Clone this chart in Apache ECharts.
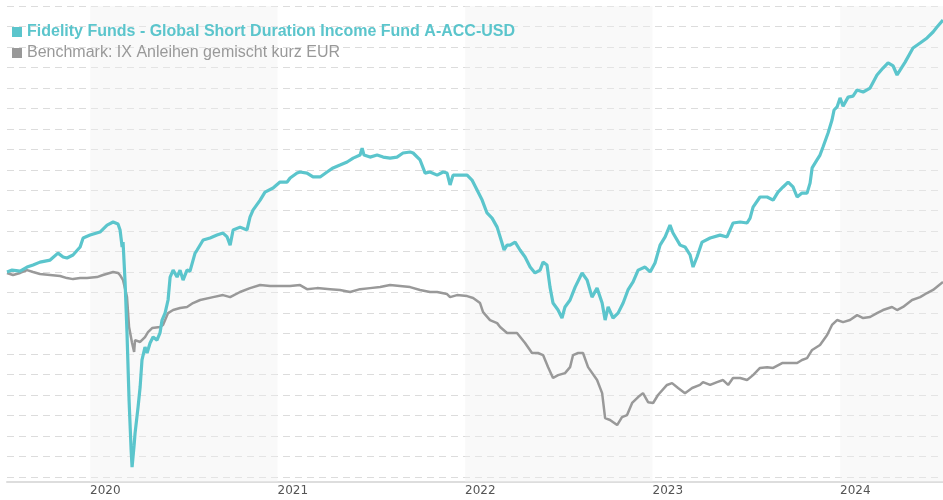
<!DOCTYPE html>
<html>
<head>
<meta charset="utf-8">
<script src="https://cdn.jsdelivr.net/npm/echarts@6/dist/echarts.min.js"></script>
<style>
  html, body { margin: 0; padding: 0; background: #fff; }
  #chart { width: 943px; height: 500px; }
</style>
</head>
<body>
<div id="chart"></div>
<script>
// decimal years on x, indexed value on y
const fundName = 'Fidelity Funds - Global Short Duration Income Fund A-ACC-USD'
const benchName = 'Benchmark: IX Anleihen gemischt kurz EUR'
const yearLabels = [2020, 2021, 2022, 2023, 2024]
const shadedYears = [2020, 2022, 2024]

const fundX = [2019.557, 2019.584, 2019.627, 2019.664, 2019.696, 2019.733, 2019.787, 2019.829, 2019.856, 2019.877,
  2019.909, 2019.947, 2019.963, 2020.000, 2020.053, 2020.091, 2020.123, 2020.149, 2020.160, 2020.171,
  2020.176, 2020.187, 2020.197, 2020.208, 2020.219, 2020.224, 2020.235, 2020.240, 2020.256, 2020.267,
  2020.277, 2020.293, 2020.304, 2020.320, 2020.336, 2020.357, 2020.373, 2020.384, 2020.400, 2020.416,
  2020.427, 2020.443, 2020.464, 2020.480, 2020.496, 2020.517, 2020.533, 2020.560, 2020.571, 2020.603,
  2020.640, 2020.677, 2020.709, 2020.731, 2020.747, 2020.763, 2020.800, 2020.837, 2020.853, 2020.869,
  2020.907, 2020.933, 2020.976, 2021.013, 2021.051, 2021.067, 2021.104, 2021.120, 2021.157, 2021.189,
  2021.227, 2021.264, 2021.296, 2021.333, 2021.371, 2021.403, 2021.440, 2021.451, 2021.461, 2021.493,
  2021.531, 2021.563, 2021.600, 2021.637, 2021.669, 2021.707, 2021.723, 2021.760, 2021.787, 2021.813,
  2021.851, 2021.883, 2021.904, 2021.920, 2021.936, 2021.973, 2022.011, 2022.037, 2022.064, 2022.091,
  2022.117, 2022.144, 2022.171, 2022.197, 2022.208, 2022.224, 2022.240, 2022.267, 2022.293, 2022.320,
  2022.347, 2022.373, 2022.400, 2022.416, 2022.437, 2022.453, 2022.469, 2022.496, 2022.517, 2022.533,
  2022.560, 2022.587, 2022.624, 2022.651, 2022.677, 2022.704, 2022.731, 2022.747, 2022.763, 2022.789,
  2022.816, 2022.843, 2022.869, 2022.896, 2022.923, 2022.960, 2022.987, 2023.013, 2023.040, 2023.067,
  2023.093, 2023.109, 2023.147, 2023.173, 2023.200, 2023.216, 2023.237, 2023.264, 2023.307, 2023.360,
  2023.397, 2023.429, 2023.467, 2023.504, 2023.520, 2023.536, 2023.573, 2023.611, 2023.643, 2023.669,
  2023.696, 2023.723, 2023.749, 2023.771, 2023.797, 2023.824, 2023.840, 2023.851, 2023.877, 2023.893,
  2023.909, 2023.936, 2023.957, 2023.968, 2023.984, 2024.000, 2024.016, 2024.043, 2024.069, 2024.091,
  2024.123, 2024.160, 2024.197, 2024.229, 2024.256, 2024.283, 2024.304, 2024.320, 2024.347, 2024.389,
  2024.427, 2024.464, 2024.496, 2024.517, 2024.549]
const fundY = [100.01, 100.10, 100.05, 100.25, 100.35, 100.49, 100.59, 100.93, 100.74, 100.69,
  100.84, 101.23, 101.67, 101.81, 101.96, 102.30, 102.45, 102.35, 102.06, 101.23,
  101.47, 99.47, 97.03, 93.75, 91.31, 90.48, 91.55, 92.14, 93.41, 94.39,
  95.71, 96.34, 96.05, 96.54, 96.83, 96.68, 97.03, 97.66, 98.00, 98.64,
  99.76, 100.10, 99.76, 100.10, 99.61, 100.10, 100.05, 100.93, 101.08, 101.57,
  101.67, 101.81, 101.91, 101.72, 101.32, 102.06, 102.20, 102.06, 102.69, 103.03,
  103.52, 103.91, 104.11, 104.40, 104.40, 104.60, 104.84, 104.89, 104.84, 104.65,
  104.65, 104.89, 105.09, 105.23, 105.38, 105.57, 105.72, 106.06, 105.72, 105.62,
  105.72, 105.62, 105.57, 105.62, 105.82, 105.87, 105.82, 105.48, 104.84, 104.89,
  104.74, 104.89, 104.84, 104.26, 104.74, 104.74, 104.74, 104.50, 104.01, 103.52,
  102.89, 102.64, 102.20, 101.42, 101.08, 101.32, 101.32, 101.47, 101.08, 100.74,
  100.25, 99.96, 100.10, 100.49, 100.35, 99.27, 98.49, 98.15, 97.76, 98.30,
  98.64, 99.27, 99.96, 99.61, 98.78, 99.22, 98.49, 97.66, 98.30, 97.76,
  98.00, 98.49, 99.13, 99.52, 100.10, 100.25, 100.01, 100.45, 101.32, 101.72,
  102.30, 101.91, 101.32, 101.23, 100.84, 100.25, 100.74, 101.47, 101.67, 101.81,
  101.72, 102.40, 102.45, 102.40, 102.64, 103.18, 103.67, 103.67, 103.52, 103.91,
  104.16, 104.40, 104.16, 103.67, 103.86, 103.86, 104.35, 105.09, 105.48, 105.72,
  106.11, 106.80, 107.43, 107.92, 108.07, 108.51, 108.11, 108.55, 108.60, 108.90,
  108.80, 108.99, 109.63, 109.97, 110.22, 110.07, 109.63, 109.87, 110.26, 110.95,
  111.19, 111.44, 111.73, 111.97, 112.32]

const benchX = [2019.557, 2019.589, 2019.627, 2019.664, 2019.696, 2019.733, 2019.787, 2019.840, 2019.877, 2019.909,
  2019.947, 2019.984, 2020.037, 2020.069, 2020.123, 2020.149, 2020.160, 2020.176, 2020.197, 2020.208,
  2020.224, 2020.235, 2020.240, 2020.267, 2020.293, 2020.309, 2020.331, 2020.373, 2020.389, 2020.416,
  2020.443, 2020.480, 2020.517, 2020.549, 2020.587, 2020.656, 2020.709, 2020.747, 2020.800, 2020.853,
  2020.907, 2020.960, 2021.013, 2021.067, 2021.120, 2021.157, 2021.211, 2021.280, 2021.333, 2021.387,
  2021.440, 2021.493, 2021.547, 2021.600, 2021.653, 2021.707, 2021.760, 2021.813, 2021.851, 2021.904,
  2021.920, 2021.957, 2022.011, 2022.043, 2022.080, 2022.096, 2022.133, 2022.171, 2022.187, 2022.224,
  2022.277, 2022.320, 2022.357, 2022.389, 2022.416, 2022.443, 2022.469, 2022.496, 2022.533, 2022.560,
  2022.576, 2022.603, 2022.629, 2022.656, 2022.704, 2022.731, 2022.747, 2022.773, 2022.811, 2022.837,
  2022.864, 2022.891, 2022.923, 2022.949, 2022.976, 2023.003, 2023.029, 2023.077, 2023.104, 2023.136,
  2023.173, 2023.211, 2023.253, 2023.269, 2023.307, 2023.344, 2023.376, 2023.403, 2023.429, 2023.467,
  2023.504, 2023.536, 2023.573, 2023.611, 2023.643, 2023.691, 2023.733, 2023.771, 2023.797, 2023.824,
  2023.851, 2023.893, 2023.931, 2023.957, 2023.984, 2024.016, 2024.053, 2024.091, 2024.123, 2024.160,
  2024.197, 2024.229, 2024.277, 2024.304, 2024.336, 2024.384, 2024.427, 2024.464, 2024.496, 2024.549]
const benchY = [99.96, 99.86, 99.96, 100.10, 100.01, 99.91, 99.86, 99.81, 99.71, 99.66,
  99.71, 99.71, 99.76, 99.86, 100.01, 99.96, 99.86, 99.61, 98.78, 97.32,
  96.54, 96.10, 96.68, 96.59, 96.83, 97.07, 97.27, 97.32, 97.42, 98.00,
  98.15, 98.25, 98.30, 98.49, 98.64, 98.78, 98.88, 98.78, 99.03, 99.22,
  99.37, 99.32, 99.32, 99.32, 99.37, 99.17, 99.22, 99.17, 99.13, 99.03,
  99.17, 99.22, 99.27, 99.37, 99.32, 99.27, 99.13, 99.03, 99.03, 98.93,
  98.78, 98.88, 98.83, 98.74, 98.49, 98.05, 97.66, 97.51, 97.32, 97.03,
  97.03, 96.54, 96.05, 96.05, 95.95, 95.36, 94.83, 94.97, 95.07, 95.36,
  95.95, 96.05, 96.05, 95.36, 94.73, 94.09, 92.87, 92.78, 92.53, 92.92,
  93.02, 93.61, 93.90, 94.09, 93.65, 93.61, 94.00, 94.49, 94.58, 94.34,
  94.09, 94.34, 94.49, 94.63, 94.49, 94.63, 94.73, 94.49, 94.83, 94.83,
  94.73, 94.97, 95.32, 95.36, 95.32, 95.56, 95.56, 95.56, 95.71, 95.80,
  96.20, 96.44, 96.93, 97.42, 97.66, 97.56, 97.66, 97.90, 97.76, 97.81,
  98.00, 98.15, 98.30, 98.15, 98.30, 98.64, 98.78, 98.98, 99.13, 99.52]

const fundColor = '#5bc5cc'
const benchColor = '#999999'
const xMin = 2019.557
const xMax = 2024.549

const chart = echarts.init(document.getElementById('chart'))
const bands = shadedYears.map(y => [{ xAxis: y }, { xAxis: Math.min(y + 1, xMax) }])

const option = {
  animation: false,
  backgroundColor: '#fff',
  grid: {
    left: 7,
    right: 0,
    top: 6,
    bottom: 18,
    containLabel: false,
    outerBoundsMode: 'none'
  },
  legend: {
    orient: 'vertical',
    left: 12,
    top: 24,
    padding: 0,
    itemGap: 5,
    itemWidth: 10,
    itemHeight: 10,
    icon: 'rect',
    textStyle: { fontFamily: 'Liberation Sans', fontSize: 16 },
    data: [
      { name: fundName, textStyle: { color: fundColor, fontWeight: 'bold' } },
      { name: benchName, textStyle: { color: benchColor } }
    ]
  },
  xAxis: {
    type: 'value',
    min: xMin,
    max: xMax,
    axisLine: { show: true, lineStyle: { color: '#dddddd', width: 2 } },
    axisTick: { show: false },
    splitLine: { show: false },
    axisLabel: {
      customValues: yearLabels,
      align: 'left',
      margin: 3,
      color: '#555',
      fontFamily: 'DejaVu Sans',
      fontSize: 12,
      formatter: v => String(Math.round(v))
    }
  },
  yAxis: {
    type: 'value',
    min: 89.75,
    max: 113,
    splitNumber: 23,
    axisLine: { show: false },
    axisTick: { show: false },
    axisLabel: { show: false },
    splitLine: { lineStyle: { color: '#dcdcdc', width: 1, type: [7, 5] } }
  },
  series: [
    {
      name: benchName,
      type: 'line',
      data: benchX.map((x, i) => [x, benchY[i]]),
      showSymbol: false,
      color: benchColor,
      lineStyle: { width: 2.5, color: benchColor },
      markArea: {
        silent: true,
        itemStyle: { color: '#f0f0f0', opacity: 0.4 },
        data: bands
      }
    },
    {
      name: fundName,
      type: 'line',
      data: fundX.map((x, i) => [x, fundY[i]]),
      showSymbol: false,
      color: fundColor,
      lineStyle: { width: 3.2, color: fundColor }
    }
  ]
}
chart.setOption(option)
</script>
</body>
</html>
